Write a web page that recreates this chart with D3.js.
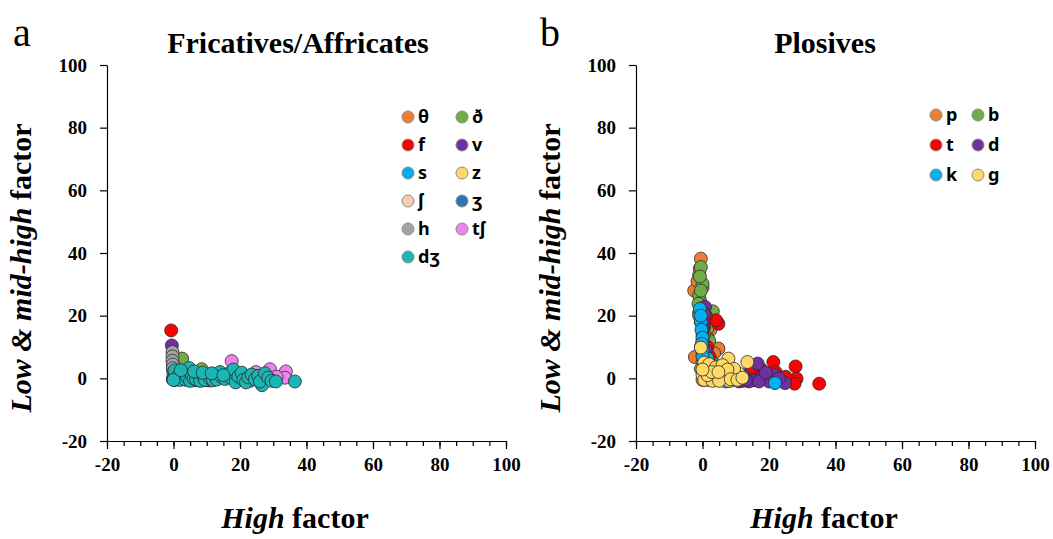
<!DOCTYPE html>
<html>
<head>
<meta charset="utf-8">
<script src="https://cdn.jsdelivr.net/npm/d3@7"></script>
<style>
  body { margin: 0; background: #fff; }
  .tick text { font-family: "Liberation Serif", serif; font-weight: bold; font-size: 19px; fill: #000; }
  .domain, .tick line { stroke: #000; stroke-width: 1.2; }
</style>
</head>
<body>
<svg width="1053" height="539"></svg>
<script>
// ---- data ----
const tickValues = [-20, 0, 20, 40, 60, 80, 100];

const fricNames  = ['θ', 'ð', 'f', 'v', 's', 'z', 'ʃ', 'ʒ', 'h', 'tʃ', 'dʒ'];
const fricColors = ['#ED7D31', '#70AD47', '#FF0000', '#7030A0', '#00B0F0', '#FFD966', '#F8CBAD', '#2E75B6', '#A5A5A5', '#EE82EE', '#1CB5B5'];
const theta = [[0.5, 1], [1.5, 0.5], [2, 2], [3, 0], [0, -0.3], [5, -0.5]];
const eth   = [[2.6, 6.3], [8.5, 2.9], [1, 3], [4, 1], [0.5, -0.5], [7, -0.5]];
const fVals = [[-0.7, 15.3], [0, 4], [1, 1], [0, -0.4]];
const vVals = [[-0.5, 10.5], [0, 2.5], [2, 0.5], [-0.2, -0.3]];
const sVals = [[0.5, 0.5], [1, 2], [3, 1], [6, -0.6], [9, -0.6]];
const zVals = [[0.5, 1.5], [2, 0], [5, 0.5], [8, -0.7]];
const shVals = [[0, 3], [1, 0.5], [6, 0], [11, -0.7]];
const zhVals = [[0, 0], [1.5, 1], [4, -0.5], [10, -0.6]];
const hVals = [[-0.3, 8.4], [-0.3, 7], [-0.3, 5.6], [-0.2, 4.4], [-0.2, 3.2], [0, 2], [0, 1]];
const tshVals = [[17.5, 5.5], [29, 2.9], [33.8, 2.2], [24.8, 2], [33.5, 0.2], [26, 0.8], [20, 0], [14, 0.3],
  [10, -0.5], [23, -0.8], [31, 0.5]];
const djVals = [[0.2, 0.5], [0.5, 1.5], [0.3, 2.5], [1, 0], [1.5, 1], [2, -0.5], [2.5, 0.8], [3, 2], [3.5, -0.3],
  [4, 0.5], [4.7, 3.3], [5, -0.8], [5.5, 1], [6, 0], [6.8, -0.3], [7.5, 1.2], [8, -0.8], [9, 0.5], [9.5, -0.5],
  [10.5, 1], [11, 0], [11.9, -0.6], [12.5, 0.8], [13, -0.4], [14, 2], [14.5, 0.5], [15.5, -0.2], [16.7, 1.6],
  [17.2, 0.2], [18, 2.8], [18.7, -1.3], [19.5, 0.6], [20.5, 1.8], [21, -0.5], [21.8, -1.3], [22.5, 0.3],
  [23.5, 1.2], [24.5, -0.3], [25.5, 0.8], [26.6, -2.2], [26, -1], [27.5, 1.6], [28.5, 0.2], [29.5, -0.8],
  [30.8, -1], [36.5, -1], [0, -0.5], [2.2, 2.6], [6.2, 2.2], [8.8, 1.8], [11.5, 1.6], [15, 1]];
const fricData = [theta, eth, fVals, vVals, sVals, zVals, shVals, zhVals, hVals, tshVals, djVals];

const plosNames  = ['p', 'b', 't', 'd', 'k', 'g'];
const plosColors = ['#ED7D31', '#70AD47', '#FF0000', '#7030A0', '#00B0F0', '#FFD966'];
const pVals = [[-0.5, 38.2], [-1, 33], [-2.5, 28], [-1.5, 31], [-0.8, 25], [2.3, 15.3], [1.5, 13], [4.8, 9.5],
  [3.5, 8], [-2.3, 6.8], [0.5, 20], [1, 11], [-0.5, 18], [0, 5], [2, 3], [6, 1], [10, 0], [1, 1.5],
  [-0.8, 35], [0, 29], [-1, 21], [1.2, 17], [0.8, 8], [-0.5, 3], [3, 5], [0, -0.5], [4, -0.5]];
const bVals = [[-0.5, 35.5], [0, 30.2], [-1, 26.5], [-1.2, 23.8], [3.1, 21.4], [1.5, 16], [-0.5, 28], [0.5, 19],
  [2, 12], [0, 8], [1, 4], [4, 1], [8, 0.5], [12, 0], [-0.8, 32.5], [-1, 20], [0.5, 14], [-0.5, 10], [2.5, 6],
  [7, -0.6], [15, 0]];
const tVals = [[4.8, 17.4], [4.1, 18.5], [1, 20], [0, 14], [2, 7], [21.3, 5.2], [28, 3.8], [35.1, -1.7],
  [28.3, -0.1], [27.7, -1.7], [19.5, 0], [17.5, 3], [22, 2], [14, 1.5], [10, 0.8], [6, 2], [25, 0.5],
  [16, -0.5], [12, -0.8], [1.5, 10], [0.5, 16.5], [2.5, 4], [18.5, 1.5], [11, -0.6], [8, 0]];
const dVals = [[0.75, 22.8], [0.3, 18.5], [0, 12], [16.6, 4.7], [24.8, -1.5], [21.8, 1], [15.3, -0.6],
  [12.3, 1], [14, -1], [18, 0.5], [10, 0], [8, -0.8], [20, -1], [23, 0], [6, 0.5], [3, 0], [13, -0.6],
  [0.5, 20.5], [0, 16], [1, 9], [17, -1], [19, 1.8], [11, -1]];
const kVals = [[-0.75, 22.2], [-0.5, 18], [-0.3, 15.5], [0, 13], [1.5, 6.3], [21.8, -1.5], [0, 9], [0.5, 4],
  [2, 1], [5, 0], [9, -0.5], [12, 0.5], [-0.2, 11], [-0.5, 20], [0, 7], [0.5, 2], [3, -0.5], [7, -1]];
const gVals = [[-0.5, 9.8], [7.8, 6.3], [13.5, 5.2], [8.8, 2], [5.8, 3.6], [0, 1], [1, 2], [2, 0], [3, 1.5],
  [4, -0.5], [5, 1], [6, -0.3], [7, 0.5], [8, -0.8], [9, 0.8], [2.5, 3], [1.5, -0.5], [3.5, 2.5], [4.5, 0.5],
  [6.5, 2], [0.5, -0.5], [10, 0], [1, 3.5], [11, 1.5], [0.5, 5], [2, 4.5], [4, 3.5], [6, 4.2], [3, -0.8],
  [5, -0.8], [9.5, 3], [1.5, 1], [7.5, 2.8], [2.8, 2], [4.8, 2], [0, 2.8], [8.5, -0.3], [10.5, -0.5], [12, 0.2]];
const plosData = [pVals, bVals, tVals, dVals, kVals, gVals];

const svg = d3.select('svg');

// one panel: axes, points, legend
const drawPanel = (opt) => {
  const x = d3.scaleLinear().domain([-20, 100]).range([opt.left, opt.left + 399]);
  const y = d3.scaleLinear().domain([-20, 100]).range([441, 65]);

  // minor x ticks every 5
  svg.append('g')
    .attr('transform', 'translate(0,441)')
    .call(d3.axisBottom(x).tickValues(d3.range(-20, 101, 5)).tickSize(5).tickFormat('').tickSizeOuter(0));
  svg.append('g')
    .attr('transform', 'translate(0,441)')
    .call(d3.axisBottom(x).tickValues(tickValues).tickSize(8).tickPadding(9).tickSizeOuter(0)
      .tickFormat(d => String(d)));
  svg.append('g')
    .attr('transform', `translate(${opt.left},0)`)
    .call(d3.axisLeft(y).tickValues(tickValues).tickSize(7).tickPadding(13).tickSizeOuter(0)
      .tickFormat(d => String(d)));

  // points, series by series so later ones sit on top
  opt.data.forEach((series, i) => {
    svg.append('g').selectAll('circle').data(series)
      .enter().append('circle')
        .attr('cx', d => x(d[0]))
        .attr('cy', d => y(d[1]))
        .attr('r', 6.5)
        .attr('fill', opt.colors[i])
        .attr('stroke', '#2b2b2b')
        .attr('stroke-width', 0.8);
  });

  // legend, two columns filled row by row
  const lg = svg.append('g');
  opt.names.forEach((n, i) => {
    const cx = opt.legX + (i % 2) * opt.legDx;
    const cy = opt.legY + Math.floor(i / 2) * opt.legDy;
    lg.append('circle').attr('cx', cx).attr('cy', cy).attr('r', 6)
      .attr('fill', opt.colors[i]).attr('stroke', '#8a8a8a').attr('stroke-width', 1);
    lg.append('text').attr('x', cx + 10).attr('y', cy + 6)
      .style('font-family', '"Noto Sans", "DejaVu Sans", sans-serif')
      .style('font-weight', 'bold').style('font-size', '18px')
      .text(n);
  });

  // title, panel letter
  svg.append('text').attr('x', opt.titleX).attr('y', 53)
    .attr('text-anchor', 'middle')
    .style('font-family', '"Liberation Serif", serif').style('font-weight', 'bold').style('font-size', '30px')
    .text(opt.title);
  svg.append('text').attr('x', opt.letterX).attr('y', 46)
    .style('font-family', '"Liberation Serif", serif').style('font-size', '40px')
    .text(opt.letter);

  // x axis title
  const xt = svg.append('text').attr('x', opt.left + 188).attr('y', 528)
    .attr('text-anchor', 'middle')
    .style('font-family', '"Liberation Serif", serif').style('font-weight', 'bold').style('font-size', '30px');
  xt.append('tspan').style('font-style', 'italic').text('High');
  xt.append('tspan').text(' factor');

  // y axis title
  const yt = svg.append('text')
    .attr('transform', `translate(${opt.left - 76},268) rotate(-90)`)
    .attr('text-anchor', 'middle')
    .style('font-family', '"Liberation Serif", serif').style('font-weight', 'bold').style('font-size', '30px');
  yt.append('tspan').style('font-style', 'italic').text('Low & mid-high');
  yt.append('tspan').text(' factor');
};

drawPanel({
  left: 107, data: fricData, names: fricNames, colors: fricColors,
  legX: 408, legY: 117, legDx: 54, legDy: 28,
  title: 'Fricatives/Affricates', titleX: 298, letter: 'a', letterX: 13
});
drawPanel({
  left: 636, data: plosData, names: plosNames, colors: plosColors,
  legX: 936, legY: 115, legDx: 42, legDy: 30,
  title: 'Plosives', titleX: 825, letter: 'b', letterX: 540
});
</script>
</body>
</html>
